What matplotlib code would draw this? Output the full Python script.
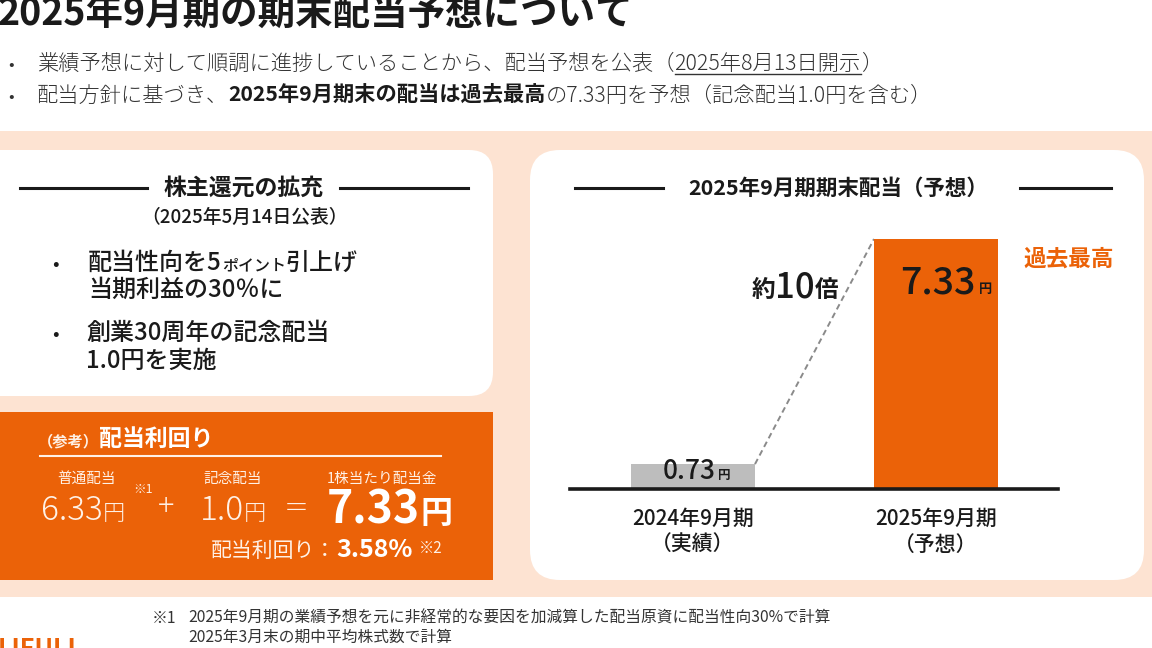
import matplotlib
matplotlib.use("Agg")
import matplotlib.pyplot as plt
from matplotlib.patches import FancyBboxPatch, Rectangle

plt.rcParams['font.family'] = ['Noto Sans CJK JP', 'DejaVu Sans']

# ---------------- data ----------------
categories = ["2024年9月期", "2025年9月期"]
category_notes = ["（実績）", "（予想）"]
dividends = [0.73, 7.33]
value_labels = ["0.73", "7.33"]
multiple_label = "10"
ordinary_dividend = "6.33"
commemorative_dividend = "1.0"
total_dividend = "7.33"
dividend_yield = "3.58%"

ORANGE = '#EB6208'
PEACH = '#FDE3D2'
GRAY_BAR = '#BDBDBD'
DARK = '#1A1A1A'
TXT = '#333333'
LIGHT = '#FFF1E6'

fig = plt.figure(figsize=(11.52, 6.48), dpi=100)
bg = fig.add_axes([0, 0, 1, 1])
bg.set_xlim(0, 1152)
bg.set_ylim(648, 0)
bg.axis('off')
renderer = fig.canvas.get_renderer()


def seq(x, y, parts, ha='left', ax=None):
    """Place text segments one after another on a common baseline (pixel coords)."""
    host = bg if ax is None else ax
    objs = []
    widths = []
    for p in parts:
        s, size, weight, color = p[:4]
        gap = p[4] if len(p) > 4 else 0
        dy = p[5] if len(p) > 5 else 0
        t = host.text(0, y + dy, s, fontsize=size, fontweight=weight, color=color,
                      va='baseline', ha='left', zorder=10, transform=bg.transData,
                      clip_on=False)
        w = t.get_window_extent(renderer=renderer).width
        objs.append((t, gap))
        widths.append(w + gap)
    total = sum(widths)
    if ha == 'center':
        cx = x - total / 2
    elif ha == 'right':
        cx = x - total
    else:
        cx = x
    spans = []
    for (t, gap), w in zip(objs, widths):
        cx += gap
        t.set_x(cx)
        spans.append((cx, cx + w - gap))
        cx += w - gap
    return spans


# ---------------- background ----------------
bg.add_patch(Rectangle((0, 131), 1152, 466, facecolor=PEACH, edgecolor='none', zorder=0))
bg.add_patch(FancyBboxPatch((-30, 150), 523, 246, boxstyle="round,pad=0,rounding_size=24",
                            facecolor='white', edgecolor='none', zorder=1))
bg.add_patch(Rectangle((0, 412), 493, 168, facecolor=ORANGE, edgecolor='none', zorder=1))
bg.add_patch(FancyBboxPatch((530, 150), 614, 430, boxstyle="round,pad=0,rounding_size=30",
                            facecolor='white', edgecolor='none', zorder=1))

# ---------------- title & bullets ----------------
bg.text(-2, 25, "2025年9月期の期末配当予想について", fontsize=27, fontweight='bold',
        color=DARK, va='baseline', ha='left', zorder=5)

bg.text(8, 70, "•", fontsize=12, color=TXT, va='baseline', zorder=5)
spans = seq(37, 70, [("業績予想に対して順調に進捗していることから、配当予想を公表（", 15.3, 'light', TXT),
                     ("2025年8月13日開示", 15.3, 'light', TXT),
                     ("）", 15.3, 'light', TXT)])
x0, x1 = spans[1]
bg.plot([x0, x1], [74, 74], color=TXT, lw=1, zorder=5)

bg.text(8, 102, "•", fontsize=12, color=TXT, va='baseline', zorder=5)
seq(37, 102, [("配当方針に基づき、", 15.3, 'light', TXT),
              ("2025年9月期末の配当は過去最高", 15.3, 'bold', DARK),
              ("の7.33円を予想（記念配当1.0円を含む）", 15.3, 'light', TXT)])

# ---------------- left white box ----------------
bg.plot([20, 147], [188, 188], color=DARK, lw=2.2, zorder=5)
bg.plot([340, 468], [188, 188], color=DARK, lw=2.2, zorder=5)
bg.text(244, 195, "株主還元の拡充", fontsize=16.5, fontweight='bold', color=DARK,
        ha='center', va='baseline', zorder=5)
bg.text(244, 223, "（2025年5月14日公表）", fontsize=13.5, fontweight='medium', color=DARK,
        ha='center', va='baseline', zorder=5)

bg.text(52, 270, "•", fontsize=14, color=DARK, va='baseline', zorder=5)
seq(88, 270, [("配当性向を5", 17.3, 'medium', DARK),
              ("ポイント", 11.5, 'medium', DARK),
              ("引上げ", 17.3, 'medium', DARK)])
bg.text(88, 297, "当期利益の30％に", fontsize=17.3, fontweight='medium', color=DARK,
        va='baseline', zorder=5)
bg.text(52, 340, "•", fontsize=14, color=DARK, va='baseline', zorder=5)
bg.text(86, 340, "創業30周年の記念配当", fontsize=17.3, fontweight='medium', color=DARK,
        va='baseline', zorder=5)
bg.text(86, 368, "1.0円を実施", fontsize=17.3, fontweight='medium', color=DARK,
        va='baseline', zorder=5)

# ---------------- orange box ----------------
seq(38, 446, [("（参考）", 11, 'bold', LIGHT), ("配当利回り", 16.5, 'bold', 'white')])
bg.plot([40, 441], [456, 456], color=LIGHT, lw=1.5, zorder=5)

bg.text(86, 483, "普通配当", fontsize=10.5, color=LIGHT, ha='center', va='baseline', zorder=5)
bg.text(233, 483, "記念配当", fontsize=10.5, color=LIGHT, ha='center', va='baseline', zorder=5)
bg.text(382, 483, "1株当たり配当金", fontsize=10.5, color=LIGHT, ha='center', va='baseline', zorder=5)

seq(41, 520, [(ordinary_dividend, 24, 'light', LIGHT), ("円", 16, 'light', LIGHT)])
bg.text(133, 493, "※1", fontsize=9, color=LIGHT, va='baseline', zorder=5)
bg.text(166, 516, "+", fontsize=22, fontweight='light', color=LIGHT, ha='center', va='baseline', zorder=5)
seq(200, 520, [(commemorative_dividend, 24, 'light', LIGHT), ("円", 16, 'light', LIGHT)])
bg.text(296, 516, "＝", fontsize=18, fontweight='light', color=LIGHT, ha='center', va='baseline', zorder=5)
seq(327, 523, [(total_dividend, 32, 'bold', 'white'), ("円", 23, 'bold', 'white')])
seq(211, 557, [("配当利回り：", 15, 'normal', LIGHT), (dividend_yield, 18, 'bold', 'white'),
               ("※2", 11, 'normal', LIGHT, 6, -4)])

# ---------------- right box title ----------------
bg.plot([575, 663], [188, 188], color=DARK, lw=2.2, zorder=5)
bg.plot([1020, 1111], [188, 188], color=DARK, lw=2.2, zorder=5)
bg.text(838, 195, "2025年9月期期末配当（予想）", fontsize=15.5, fontweight='bold', color=DARK,
        ha='center', va='baseline', zorder=5)

# ---------------- bar chart ----------------
ax_l, ax_r, base_y, top_y = 570, 1058, 489, 200
ax = fig.add_axes([ax_l / 1152, (648 - base_y) / 648, (ax_r - ax_l) / 1152, (base_y - top_y) / 648])
ax.patch.set_alpha(0)
ymax = dividends[1] * (base_y - top_y) / (base_y - 239)
ax.set_ylim(0, ymax)
xs = [0, 1]
ax.set_xlim(-123 / 243, 1 + 122 / 243)
bw = 124 / 243
ax.bar(xs, dividends, width=bw, color=[GRAY_BAR, ORANGE], zorder=2)
ax.axhline(0, color=DARK, lw=2.6, zorder=3, clip_on=False)
ax.plot([xs[0] + bw / 2, xs[1] - bw / 2], [dividends[0], dividends[1]], ls='--',
        color='#8A8A8A', lw=1.4, dashes=(3, 2), zorder=1)
ax.axis('off')


def to_bg(x, y):
    d = ax.transData.transform((x, y))
    return bg.transData.inverted().transform(d)


# value labels (drawn on the chart axes so they sit above the bars)
px, py = to_bg(xs[0], dividends[0])
seq(px + 4, py + 15, [(value_labels[0], 19, 'medium', DARK), ("円", 9, 'bold', DARK, 2)],
    ha='center', ax=ax)
px, py = to_bg(xs[1], dividends[1])
seq(px + 10, py + 54, [(value_labels[1], 27, 'medium', DARK), ("円", 9.5, 'bold', DARK, 4)],
    ha='center', ax=ax)

# multiple annotation
seq(795, 297, [("約", 17, 'bold', DARK), (multiple_label, 25, 'medium', DARK), ("倍", 17, 'bold', DARK)],
    ha='center', ax=ax)

# record label
bg.text(1069, 266, "過去最高", fontsize=16.3, fontweight='bold', color=ORANGE, ha='center',
        va='baseline', zorder=5)

# category labels
for x, c, n in zip(xs, categories, category_notes):
    cx, _ = to_bg(x, 0)
    bg.text(cx, 525, c, fontsize=15, fontweight='medium', color=DARK, ha='center', va='baseline', zorder=5)
    bg.text(cx, 551, n, fontsize=15, fontweight='medium', color=DARK, ha='center', va='baseline', zorder=5)

# ---------------- footnotes & logo ----------------
bg.text(152, 623, "※1", fontsize=11.3, color=TXT, va='baseline', zorder=5)
bg.text(188, 623, "2025年9月期の業績予想を元に非経常的な要因を加減算した配当原資に配当性向30%で計算",
        fontsize=11.3, color=TXT, va='baseline', zorder=5)
bg.text(188, 642, "2025年3月末の期中平均株式数で計算", fontsize=11.3, color=TXT, va='baseline', zorder=5)
bg.text(-2, 656, "LIFULL", fontsize=18, fontweight='bold', color=ORANGE, va='baseline', zorder=5)

fig.savefig("out.png", dpi=100)
